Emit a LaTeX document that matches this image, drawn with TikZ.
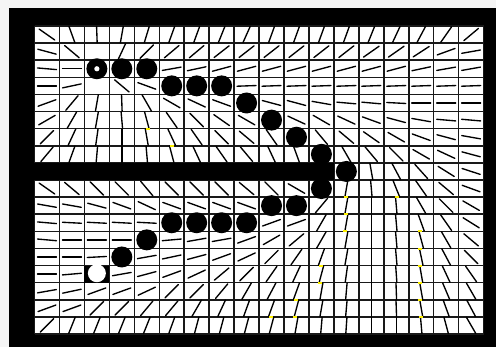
\documentclass[tikz,border=0pt]{standalone}
\begin{document}
\begin{tikzpicture}[x=1pt,y=-1pt,
  gridline/.style={draw=black!90,line width=1.5pt},
  seg/.style={draw=black,line width=1.35pt,line cap=round},
  pathdot/.style={fill=black},
  ymark/.style={fill=yellow}]
\def\xo{34.5}\def\yo{26}\def\cw{24.95}\def\rh{17.11}
\useasboundingbox (0,0) rectangle (496,347);
\fill[black!4] (0,0) rectangle (496,347);
\fill[black] (9,8) rectangle (496,347);
\fill[white] (\xo,\yo) rectangle ({\xo+18*\cw},{\yo+18*\rh});
% grid
\foreach \i in {0,...,18}{
  \draw[gridline] ({\xo+\i*\cw},\yo) -- ({\xo+\i*\cw},{\yo+18*\rh});
  \draw[gridline] (\xo,{\yo+\i*\rh}) -- ({\xo+18*\cw},{\yo+\i*\rh});
}
% direction field
\foreach \rowlist [count=\ri from 0] in {
 {-35,-70,-88,80,73,70,70,68,66,70,70,70,70,68,65,62,55,40},
 {-15,-40,999,65,45,40,40,38,38,38,38,38,38,35,35,33,20,10},
 {-5,0,999,999,999,10,12,15,15,15,15,15,15,15,15,12,10,10},
 {0,12,999,-40,-20,999,999,999,2,2,2,2,2,2,2,2,2,2},
 {20,50,80,-88,-60,-30,-25,-20,999,-15,-15,-10,-5,-5,-3,0,0,0},
 {30,60,80,-85,-75,-55,-45,-35,-30,999,-25,-30,-25,-20,-15,-10,-5,-5},
 {45,65,82,90,-80,-65,-55,-45,-40,-55,999,-50,-40,-35,-30,-20,-15,-10},
 {50,70,85,90,-85,-75,-65,-55,-50,-65,-70,999,-60,-50,-45,-30,-25,-15},
 {999,999,999,999,999,999,999,999,999,999,999,999,999,-80,-62,-48,-32,-18},
 {-35,-40,-45,-45,-50,-45,-45,-45,-40,-45,-30,999,80,-85,-68,-55,-40,-20},
 {-10,-10,-15,-20,-25,-20,-20,-20,-20,999,999,50,80,90,-85,-60,-45,-30},
 {-5,-3,-3,-3,-3,999,999,999,999,20,20,60,80,90,-85,-70,-55,-32},
 {-5,0,0,0,999,5,10,10,20,30,40,60,80,90,-85,-75,-60,-40},
 {0,0,3,999,10,12,15,20,25,45,55,70,80,90,-85,-78,-62,-45},
 {0,5,999,10,15,20,25,40,45,55,65,75,82,90,-86,-80,-65,-55},
 {10,12,20,20,25,45,45,50,60,62,70,80,85,90,-88,-80,-67,-60},
 {20,20,45,45,50,50,60,65,70,70,75,80,85,90,-88,-80,-70,-62},
 {45,68,68,68,68,70,75,75,75,75,80,85,86,90,90,-85,-75,-60}}{
  \foreach \a [count=\ci from 0] in \rowlist {
    \ifnum\a=999\relax\else
      \pgfmathsetmacro\hl{min(9.5,8.2/max(abs(sin(\a)),0.01))}
      \pgfmathsetmacro\cx{\xo+(\ci+0.5)*\cw}
      \pgfmathsetmacro\cy{\yo+(\ri+0.5)*\rh}
      \draw[seg] ({\cx+\hl*cos(\a)},{\cy-\hl*sin(\a)}) -- ({\cx-\hl*cos(\a)},{\cy+\hl*sin(\a)});
    \fi
  }
}
% yellow marks
\foreach \mx/\my in {346/197,346/214,345/231,397/197,420/231,420/249,420/266,420/283,420/300,421/317,321/266,320/283,296/300,295/317,271/317,148/129,172/146}{
  \fill[ymark] (\mx-2,\my-1) rectangle (\mx+2,\my+1);
}
% wall
\fill[black] (9,{\yo+8*\rh}) rectangle ({\xo+12*\cw},{\yo+9*\rh});
% path dots
\foreach \ci/\ri in {3/2,4/2,5/3,6/3,7/3,8/4,9/5,10/6,11/7,12/8,11/9,10/10,9/10,8/11,7/11,6/11,5/11,4/12,3/13}{
  \fill[pathdot] ({\xo+(\ci+0.5)*\cw},{\yo+(\ri+0.5)*\rh}) circle (10.5pt);
}
% start
\fill[pathdot] ({\xo+2.5*\cw},{\yo+2.5*\rh}) circle (10.5pt);
\fill[white] ({\xo+2.5*\cw},{\yo+2.5*\rh}) circle (2.6pt);
% goal
\fill[black] ({\xo+2*\cw},{\yo+14*\rh}) rectangle ({\xo+3*\cw},{\yo+15*\rh});
\fill[white] ({\xo+2.5*\cw},{\yo+14.45*\rh}) circle (9pt);
\end{tikzpicture}
\end{document}
